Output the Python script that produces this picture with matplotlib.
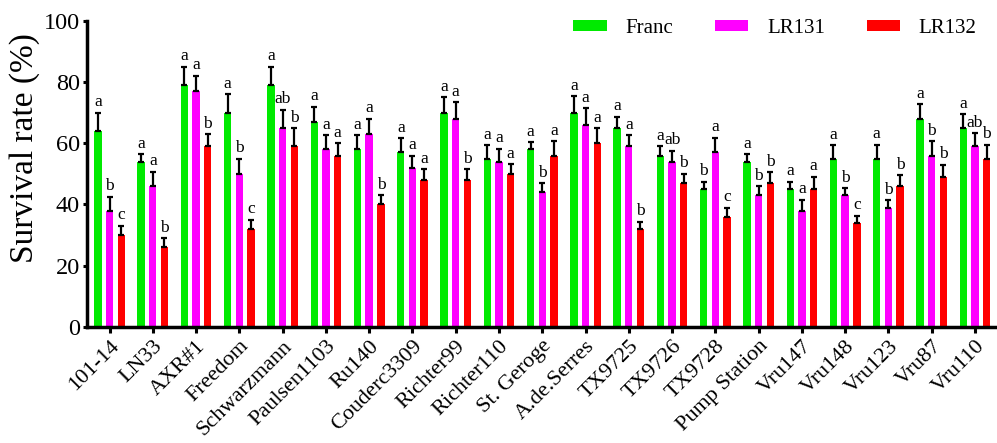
import matplotlib
matplotlib.use("Agg")
import matplotlib.pyplot as plt
import numpy as np

plt.rcParams["font.family"] = ["Liberation Serif", "DejaVu Serif"]

rootstocks = ["101-14", "LN33", "AXR#1", "Freedom", "Schwarzmann", "Paulsen1103",
              "Ru140", "Couderc3309", "Richter99", "Richter110", "St. Geroge",
              "A.de.Serres", "TX9725", "TX9726", "TX9728", "Pump Station",
              "Vru147", "Vru148", "Vru123", "Vru87", "Vru110"]

franc = [64, 54, 79, 70, 79, 67, 58, 57, 70, 55, 58, 70, 65, 56, 45, 54, 45, 55, 55, 68, 65]
lr131 = [38, 46, 77, 50, 65, 58, 63, 52, 68, 54, 44, 66, 59, 54, 57, 43, 38, 43, 39, 56, 59]
lr132 = [30, 26, 59, 32, 59, 56, 40, 48, 48, 50, 56, 60, 32, 47, 36, 47, 45, 34, 46, 49, 55]

franc_err = [6, 2.5, 6, 6, 6, 5, 4.7, 4.6, 5, 4.3, 2.3, 5.3, 3.6, 3, 2.5, 2.5, 2.5, 4.3, 4.5, 4.8, 4.5]
lr131_err = [4.5, 4.7, 5, 5, 6, 4.7, 5, 4, 5.4, 4.2, 3, 5.5, 3.7, 3.5, 4.8, 3, 3.6, 2.4, 2.4, 4.7, 4.2]
lr132_err = [3, 3, 4, 3, 6, 4, 3, 3.5, 3.5, 3.2, 4.7, 5, 2.4, 3, 3, 3.5, 4, 2.3, 3.6, 4, 4.5]

franc_sig = ["a", "a", "a", "a", "a", "a", "a", "a", "a", "a", "a", "a", "a", "a", "b",
             "a", "a", "a", "a", "a", "a"]
lr131_sig = ["b", "a", "a", "b", "ab", "a", "a", "a", "a", "a", "b", "a", "a", "ab", "a",
             "b", "a", "b", "b", "b", "ab"]
lr132_sig = ["c", "b", "b", "c", "b", "a", "b", "a", "b", "a", "a", "a", "b", "b", "c",
             "b", "a", "c", "b", "b", "b"]

series = [("Franc", franc, franc_err, franc_sig, "#00ea00"),
          ("LR131", lr131, lr131_err, lr131_sig, "#ff00ff"),
          ("LR132", lr132, lr132_err, lr132_sig, "#ff0000")]

x = np.arange(len(rootstocks))
width = 0.17
offsets = [-0.27, 0, 0.27]

fig = plt.figure(figsize=(9.97, 4.43), dpi=100)
ax = fig.add_axes([0.0873, 0.262, 0.911, 0.691])

for (name, vals, err, sig, color), off in zip(series, offsets):
    pos = x + off
    ax.bar(pos, vals, width, color=color, label=name, zorder=2)
    ax.errorbar(pos, vals, yerr=[np.zeros(len(vals)), err], fmt="none",
                ecolor="black", elinewidth=1.6, capsize=2.4, capthick=1.6, zorder=3)
    for p, v, e, s in zip(pos, vals, err, sig):
        ax.text(p, v + e + 0.8, s, ha="center", va="bottom", fontsize=12.5)

ax.set_xlim(-0.52, 20.47)
ax.set_ylim(0, 100)
ax.set_yticks([0, 20, 40, 60, 80, 100])
ax.set_xticks(x)
ax.set_xticklabels(rootstocks, rotation=45, ha="right", rotation_mode="anchor",
                   fontsize=16)
ax.tick_params(axis="y", labelsize=17.5, width=2.2, length=3, pad=2)
ax.tick_params(axis="x", width=2.2, length=4, pad=3)
ax.set_ylabel("Survival rate (%)", fontsize=24)
ax.yaxis.set_label_coords(-0.052, 0.585)

for side in ["top", "right"]:
    ax.spines[side].set_visible(False)
for side in ["left", "bottom"]:
    ax.spines[side].set_linewidth(2.5)

ax.legend(loc="upper right", bbox_to_anchor=(1.0, 1.068), ncol=3, frameon=False,
          fontsize=15, handlelength=1.6, handleheight=0.45, columnspacing=2.0,
          handletextpad=0.9)

plt.savefig("out.png", dpi=100)
